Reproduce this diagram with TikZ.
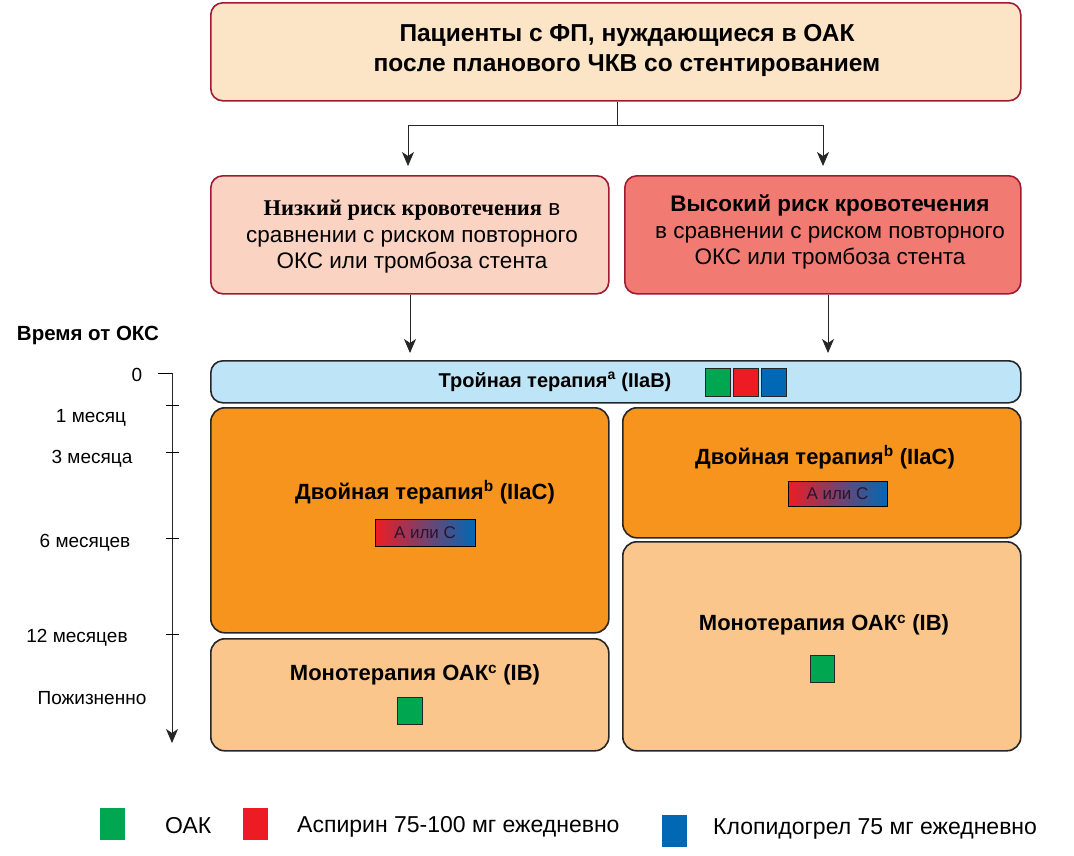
\documentclass[tikz,border=0pt]{standalone}
\usepackage{fontspec}
\setmainfont{Liberation Sans}
\newfontfamily\serifb{Liberation Serif}
\usetikzlibrary{arrows.meta}
\definecolor{peach}{HTML}{FCE4C6}
\definecolor{lowrisk}{HTML}{FBD3C2}
\definecolor{highrisk}{HTML}{F17B73}
\definecolor{bordr}{HTML}{9E1B32}
\definecolor{skyb}{HTML}{BEE4F7}
\definecolor{orng}{HTML}{F7941E}
\definecolor{lorng}{HTML}{FBC68B}
\definecolor{gr}{HTML}{00A650}
\definecolor{rd}{HTML}{ED1C24}
\definecolor{bl}{HTML}{0068B5}
\definecolor{gtext}{HTML}{2A1430}
\tikzset{
  riskbox/.style={draw=bordr, line width=1.6pt, rounded corners=12pt, anchor=north west, inner sep=0pt},
  therbox/.style={draw=black!85, line width=1.6pt, rounded corners=14pt, anchor=north west, inner sep=0pt},
  arr/.style={draw=black!85, line width=0.9pt, -{Stealth[length=14pt,width=12pt,inset=4pt]}},
  txt/.style={inner sep=0pt, align=center},
  title/.style={txt, font=\fontsize{24.5}{30}\selectfont\bfseries},
  body/.style={txt, font=\fontsize{22.5}{26.5}\selectfont},
  thl/.style={txt, font=\fontsize{22}{25}\selectfont\bfseries},
  tl/.style={txt, font=\fontsize{19}{22}\selectfont},
  sq/.style={draw=black!85, line width=1pt, minimum width=25pt, minimum height=28pt, inner sep=0pt, anchor=north west},
  grad/.style={draw=black, line width=1pt, left color=rd, right color=bl, minimum width=100pt, minimum height=27pt, inner sep=0pt, text=gtext, font=\fontsize{17}{19}\selectfont},
  leg/.style={anchor=west, inner sep=0pt, font=\fontsize{23}{26}\selectfont},
  lsq/.style={fill, minimum width=25pt, minimum height=32pt, inner sep=0pt, anchor=north west, draw=none},
}
\begin{document}
\begin{tikzpicture}[x=1pt, y=-1pt]
\useasboundingbox (0,0) rectangle (1074,855);
% top
\node[riskbox, fill=peach, minimum width=810pt, minimum height=98pt] (top) at (210,2) {};
\node[title] (toptxt) at (627,50) {Пациенты с ФП, нуждающиеся в ОАК\\после планового ЧКВ со стентированием};
% risk boxes
\node[riskbox, fill=lowrisk, minimum width=398pt, minimum height=118pt] (low) at (210,175) {};
\node[body] (lowtxt) at (412,237) {{\serifb\bfseries Низкий риск кровотечения} в\\сравнении с риском повторного\\ОКС или тромбоза стента};
\node[riskbox, fill=highrisk, minimum width=396pt, minimum height=118pt] (high) at (624,175) {};
\node[body] (hightxt) at (830,232) {\textbf{Высокий риск кровотечения}\\в сравнении с риском повторного\\ОКС или тромбоза стента};
% connectors
\coordinate (j) at (617,125);
\draw[line width=0.9pt, draw=black!85] (top.south -| j) -- (j);
\draw[arr] (j) -| (408,166);
\draw[arr] (j) -| (823,166);
% triple
\node[therbox, fill=skyb, minimum width=810pt, minimum height=42pt, rounded corners=12pt] (triple) at (210,360) {};
\draw[arr] (low.south -| 410,0) -- (410,353);
\draw[arr] (high.south -| 828,0) -- (828,353);
\node[txt, font=\fontsize{20}{22}\selectfont\bfseries] (tripletxt) at (555,382) {Тройная терапия\textsuperscript{a} (IIaB)};
\node[sq, fill=gr] (tg) at (705,368) {};
\node[sq, fill=rd] (tr) at (733,368) {};
\node[sq, fill=bl] (tb) at (761,368) {};
% left therapy boxes
\node[therbox, fill=orng, minimum width=398pt, minimum height=225pt] (dualL) at (210,407) {};
\node[thl] (dualLtxt) at (425,492) {Двойная терапия\textsuperscript{b} (IIaC)};
\node[grad] (gL) at (425,532.5) {А или С};
\node[therbox, fill=lorng, minimum width=398pt, minimum height=112pt] (monoL) at (210,638) {};
\node[thl] (monoLtxt) at (415,675) {Монотерапия ОАК\textsuperscript{c} (IB)};
\node[sq, fill=gr, minimum height=27pt] (mgL) at (397,697) {};
% right therapy boxes
\node[therbox, fill=orng, minimum width=398pt, minimum height=130pt] (dualR) at (622,407) {};
\node[thl] (dualRtxt) at (825,457) {Двойная терапия\textsuperscript{b} (IIaC)};
\node[grad, minimum width=99pt, minimum height=25pt] (gR) at (837.5,493.5) {А или С};
\node[therbox, fill=lorng, minimum width=398pt, minimum height=209pt] (monoR) at (622,541) {};
\node[thl] (monoRtxt) at (824,625) {Монотерапия ОАК\textsuperscript{c} (IB)};
\node[sq, fill=gr, minimum width=24pt, minimum height=27pt] (mgR) at (810,655) {};
% timeline
\node[txt, font=\fontsize{20.5}{23}\selectfont\bfseries] (tltitle) at (88,335) {Время от ОКС};
\coordinate (ax0) at (172,373);
\coordinate (axend) at (172,743);
\draw[line width=0.9pt] (158,373) -- (ax0);
\draw[arr] (ax0) -- (axend);
\foreach \yy in {405,452,538,634} { \draw[line width=0.8pt] (166,\yy) -- (179,\yy); }
\node[tl] (l0) at (137,375) {0};
\node[tl] (l1) at (91,418) {1 месяц};
\node[tl] (l3) at (92,459) {3 месяца};
\node[tl] (l6) at (85,543) {6 месяцев};
\node[tl] (l12) at (77,638) {12 месяцев};
\node[tl] (lz) at (92,698) {Пожизненно};
% legend
\node[lsq, fill=gr] (lg) at (100,808) {};
\node[leg] (lgt) at (165,826) {ОАК};
\node[lsq, fill=rd] (lr) at (243,808) {};
\node[leg] (lrt) at (297,827) {Аспирин 75-100 мг ежедневно};
\node[lsq, fill=bl] (lb) at (662,815) {};
\node[leg] (lbt) at (713,829) {Клопидогрел 75 мг ежедневно};
\end{tikzpicture}
\end{document}
